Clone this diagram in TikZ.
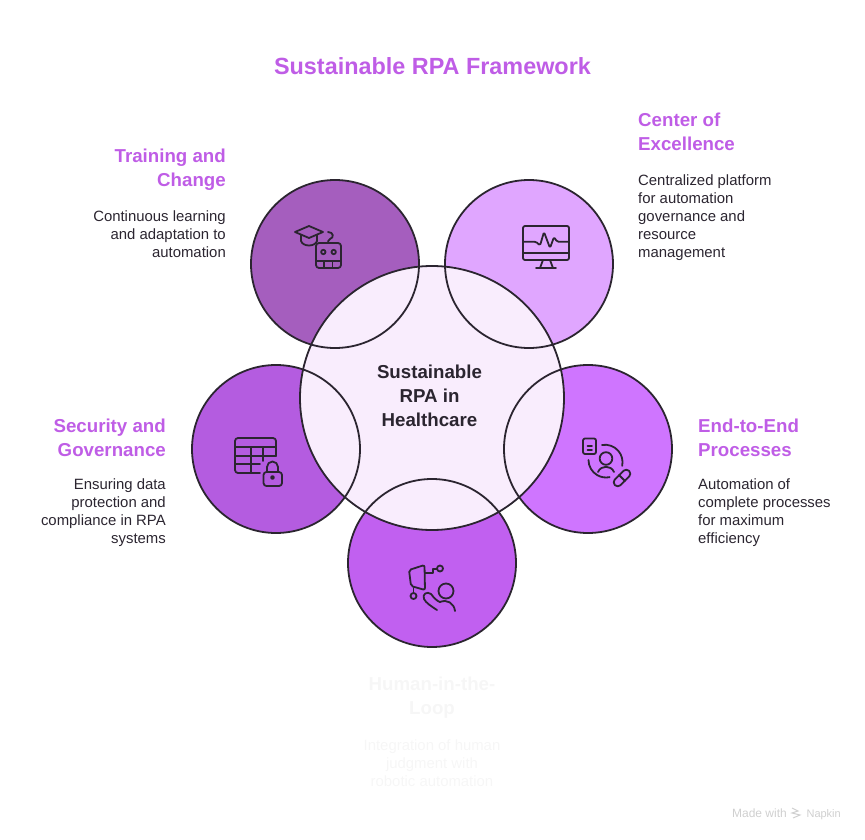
\documentclass[tikz,border=0pt]{standalone}
\usepackage{fontspec}
\setmainfont{Liberation Sans}
\definecolor{titlecol}{HTML}{BF5DE6}
\definecolor{inkcol}{HTML}{2B2530}
\definecolor{corecol}{HTML}{F9EDFD}
\definecolor{trainingcol}{HTML}{A55EBE}
\definecolor{excellencecol}{HTML}{E0A6FF}
\definecolor{processcol}{HTML}{CF75FF}
\definecolor{humancol}{HTML}{C160F0}
\definecolor{securitycol}{HTML}{B45CE0}
\definecolor{ghostcol}{HTML}{F6F6F6}
\definecolor{footcol}{HTML}{CFCFCF}
\tikzset{
    bubble/.style={circle, minimum size=168pt, inner sep=0pt},
    ring/.style={circle, draw=inkcol, line width=1.8pt, minimum size=168pt, inner sep=0pt},
    icon/.style={draw=inkcol, line width=1.8pt, line cap=round, line join=round},
    heading/.style={inner sep=0pt, font=\bfseries\fontsize{18.7}{24}\selectfont, text=titlecol},
    blurb/.style={inner sep=0pt, font=\fontsize{14.9}{18}\selectfont, text=inkcol},
}
\begin{document}
\begin{tikzpicture}[x=1pt, y=-1pt]
    \useasboundingbox (0,0) rectangle (865,840);

    % Titulo
    \node[inner sep=0pt, font=\bfseries\fontsize{23.4}{28}\selectfont, text=titlecol] (title) at (432.5,66) {Sustainable RPA Framework};

    % Circulos
    \node[bubble, fill=trainingcol] (training) at (335,264) {};
    \node[bubble, fill=excellencecol] (excellence) at (529,264) {};
    \node[bubble, fill=processcol] (process) at (588,449) {};
    \node[bubble, fill=humancol] (human) at (432,563) {};
    \node[bubble, fill=securitycol] (security) at (276,449) {};
    \node[circle, fill=corecol, minimum size=264pt, inner sep=0pt] (core) at (432,398) {};

    % Contornos
    \foreach \n in {training, excellence, process, human, security}
        \node[ring] (\n ring) at (\n) {};
    \node[ring, minimum size=264pt] (corering) at (core) {};
    \node[inner sep=0pt, align=center, text=inkcol, font=\bfseries\fontsize{18.7}{24}\selectfont] (corelabel) at (429.5,396) {Sustainable\\RPA in\\Healthcare};

    % Textos
    \node[heading, anchor=north east, align=right] (traininghead) at (226,149) {Training and\\Change};
    \node[blurb, anchor=north east, align=right] (trainingtext) at (226,211) {Continuous learning\\and adaptation to\\automation};
    \node[heading, anchor=north west, align=left] (excellencehead) at (638,113) {Center of\\Excellence};
    \node[blurb, anchor=north west, align=left] (excellencetext) at (638,175) {Centralized platform\\for automation\\governance and\\resource\\management};
    \node[heading, anchor=north east, align=right] (securityhead) at (166,419) {Security and\\Governance};
    \node[blurb, anchor=north east, align=right] (securitytext) at (166,478) {Ensuring data\\protection and\\compliance in RPA\\systems};
    \node[heading, anchor=north west, align=left] (processhead) at (698,419) {End-to-End\\Processes};
    \node[blurb, anchor=north west, align=left] (processtext) at (698,478) {Automation of\\complete processes\\for maximum\\efficiency};
    \node[heading, anchor=north, align=center, text=ghostcol] (humanhead) at (432,677) {Human-in-the-\\Loop};
    \node[blurb, anchor=north, align=center, text=ghostcol] (humantext) at (432,739) {Integration of human\\judgment with\\robotic automation};

    % Icone: chapeu e robo
    \draw[icon] (295,232) -- (309,226) -- (323,232) -- (309,238) -- cycle;
    \draw[icon] (301,235) -- (301,241) .. controls (303,247) and (315,247) .. (317,241) -- (317,235);
    \draw[icon] (328,232) .. controls (334,232) and (334,238) .. (330,239) .. controls (328,240) and (328,242) .. (328,243);
    \draw[icon, rounded corners=3pt] (316,243) rectangle (341,268);
    \draw[icon] (323.3,252) circle (2.2) (333.7,252) circle (2.2);
    \draw[icon] (316,261) -- (341,261) (324,261) -- (324,268) (332.5,261) -- (332.5,268);

    % Icone: monitor
    \draw[icon, rounded corners=2pt] (523,226) rectangle (569,260);
    \draw[icon] (523,253) -- (569,253);
    \draw[icon, rounded corners=1.5pt] (523,241.7) -- (536,241.7) -- (540,245.5) -- (544,232) -- (550,248) -- (554,237) -- (557,241.7) -- (569,241.7);
    \draw[icon] (543,260) -- (540,268) (550,260) -- (553,268) (536,268) -- (556,268);

    % Icone: tabela e cadeado
    \draw[icon, rounded corners=3pt] (260,473) -- (235,473) -- (235,438) -- (276,438) -- (276,456);
    \draw[icon] (235,447) -- (276,447) (235,456) -- (276,456) (235,464) -- (260,464);
    \draw[icon] (251,447) -- (251,473) (263,447) -- (263,461);
    \draw[icon, rounded corners=3pt] (263.5,472) rectangle (282,486);
    \draw[icon] (267,472) -- (267,467) arc[start angle=180, end angle=360, radius=5.5] -- (278,472);
    \draw[icon] (272.5,477.5) circle (1.5);

    % Icone: documento, pessoa e capsula
    \draw[icon, rounded corners=2pt] (583,438.5) rectangle (596,454);
    \draw[icon] (587.5,446) -- (592,446) (587.5,450) -- (592,450);
    \draw[icon] (602,445) arc[start angle=-100, end angle=12, radius=17.5];
    \draw[icon] (588.5,460) arc[start angle=180, end angle=78, radius=17.5];
    \draw[icon] (606,458.5) circle (6.3);
    \draw[icon] (598,472) .. controls (601,465) and (611,465) .. (614,472);
    \draw[icon, rounded corners=3.8pt, rotate around={45:(622,478)}] (612,474) rectangle (632,482);
    \draw[icon] (619,475) -- (625,481);

    % Icone: painel e pessoa
    \draw[icon, rounded corners=2pt] (409,570) -- (424.5,565) -- (425,590) -- (411,586) -- cycle;
    \draw[icon] (425,573) -- (433,573) (433,573) -- (433,569) -- (437,569);
    \draw[icon] (440,568.5) circle (3);
    \draw[icon] (413.5,588) -- (413.5,593);
    \draw[icon] (413.5,596) circle (3);
    \draw[icon] (446,591) circle (7.5);
    \draw[icon] (440,602) .. controls (447,599) and (454,603) .. (455,611);
    \draw[icon] (437,610) .. controls (431,606) and (426,603) .. (424,599) .. controls (422,594) and (427,591) .. (431,594) .. controls (434,598) and (437,601) .. (440,602);

    % Rodape
    \node[inner sep=0pt, anchor=base east, text=footcol, font=\fontsize{11}{13}\selectfont] (footnapkin) at (841,817) {Napkin};
    \node[inner sep=0pt, anchor=base east, text=footcol, font=\fontsize{12}{13}\selectfont] (footmade) at (787,817) {Made with};
    \draw[footcol, line width=1pt] (792,808) -- (798,811) -- (792,813) -- (800,815) -- (793,818);
\end{tikzpicture}
\end{document}
